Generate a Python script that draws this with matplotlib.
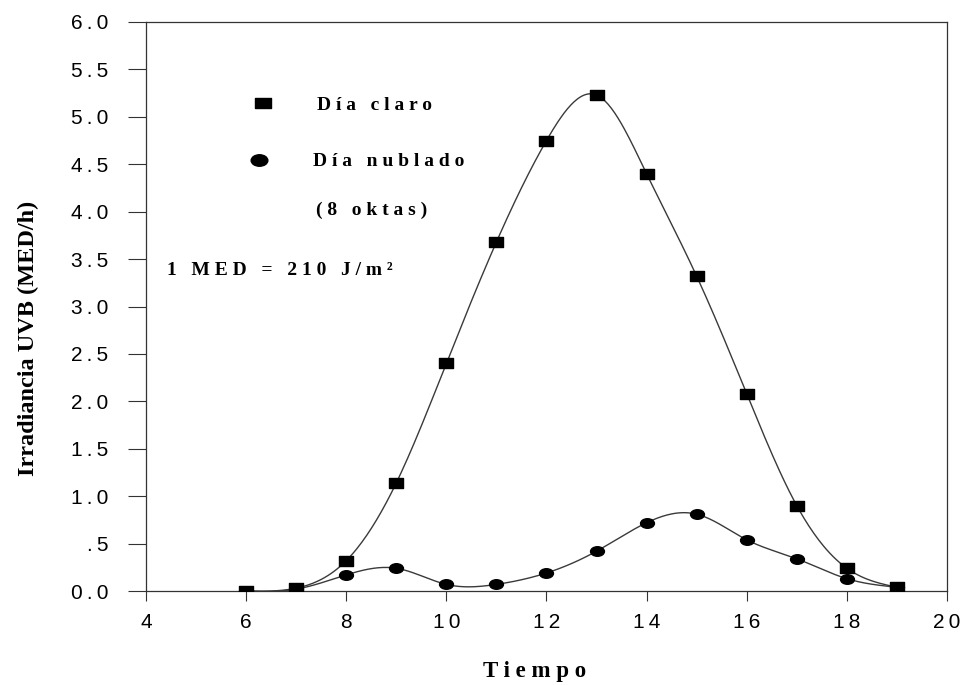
import numpy as np
import matplotlib
matplotlib.use('Agg')
import matplotlib.pyplot as plt
from matplotlib.path import Path
from matplotlib.transforms import Affine2D

# hours of the day
hours = [6, 7, 8, 9, 10, 11, 12, 13, 14, 15, 16, 17, 18, 19]
# UVB irradiance (MED/h)
clear_day = [0.0, 0.03, 0.32, 1.14, 2.40, 3.68, 4.75, 5.23, 4.40, 3.32, 2.08, 0.90, 0.24, 0.04]
cloudy_day = [0.0, 0.02, 0.17, 0.24, 0.07, 0.07, 0.19, 0.42, 0.72, 0.81, 0.54, 0.34, 0.13, 0.04]

xticks = [4, 6, 8, 10, 12, 14, 16, 18, 20]
yticks = [0.0, 0.5, 1.0, 1.5, 2.0, 2.5, 3.0, 3.5, 4.0, 4.5, 5.0, 5.5, 6.0]
ytick_labels = ['0.0', '.5', '1.0', '1.5', '2.0', '2.5', '3.0', '3.5',
                '4.0', '4.5', '5.0', '5.5', '6.0']


def spline(x, y, n=400):
    # natural cubic spline, just for drawing the smooth line
    x = np.asarray(x, float)
    y = np.asarray(y, float)
    k = len(x)
    h = np.diff(x)
    A = np.zeros((k, k))
    b = np.zeros(k)
    A[0, 0] = A[-1, -1] = 1
    for i in range(1, k - 1):
        A[i, i - 1] = h[i - 1]
        A[i, i] = 2 * (h[i - 1] + h[i])
        A[i, i + 1] = h[i]
        b[i] = 3 * ((y[i + 1] - y[i]) / h[i] - (y[i] - y[i - 1]) / h[i - 1])
    c = np.linalg.solve(A, b)
    xs = np.linspace(x[0], x[-1], n)
    idx = np.clip(np.searchsorted(x, xs) - 1, 0, k - 2)
    dx = xs - x[idx]
    bb = (y[idx + 1] - y[idx]) / h[idx] - h[idx] * (2 * c[idx] + c[idx + 1]) / 3
    d = (c[idx + 1] - c[idx]) / (3 * h[idx])
    ys = y[idx] + bb * dx + c[idx] * dx ** 2 + d * dx ** 3
    return xs, ys


def spaced(s):
    return '\u2009'.join(s)


# the scanned markers are a bit wider than tall
stretch = Affine2D().scale(1.45, 1.0)
rect = stretch.transform_path(Path.unit_rectangle().transformed(Affine2D().translate(-0.5, -0.5)))
ellipse = stretch.transform_path(Path.unit_circle())

sans = ['Liberation Sans', 'DejaVu Sans']
serif = ['Liberation Serif', 'DejaVu Serif']

fig = plt.figure(figsize=(9.61, 6.85), dpi=100)
ax = fig.add_axes([0.1519, 0.1372, 0.8335, 0.8307])

xs, ys = spline(hours, clear_day)
ax.plot(xs, ys, color='#3a3a3a', lw=1.0)
xs, ys = spline(hours, cloudy_day)
ax.plot(xs, ys, color='#3a3a3a', lw=1.0)
ax.plot(hours, clear_day, ls='none', marker=rect, color='black', markersize=10, zorder=3)
ax.plot(hours, cloudy_day, ls='none', marker=ellipse, color='black', markersize=10, zorder=3)

ax.set_xlim(4, 20)
ax.set_ylim(0, 6)
ax.set_xticks(xticks)
ax.set_xticklabels([spaced(str(t)) for t in xticks], family=sans, fontsize=15)
ax.set_yticks(yticks)
ax.set_yticklabels([spaced(t) for t in ytick_labels], family=sans, fontsize=15)
ax.tick_params(axis='x', direction='out', length=7, width=0.8, pad=9, color='#333333')
ax.tick_params(axis='y', direction='out', length=13, width=0.8, pad=14, color='#333333')
for sp in ax.spines.values():
    sp.set_linewidth(0.9)
    sp.set_color('#333333')

fig.text(28 / 961, 1 - 338 / 685, 'Irradiancia UVB (MED/h)', family=serif,
         fontweight='bold', fontsize=17.5, rotation=90, ha='center', va='center')
fig.text(535 / 961, 1 - 672 / 685, 'T i e m p o', family=serif, fontweight='bold',
         fontsize=16.5, ha='center', va='center')

# legend drawn by hand
ax.plot([0.146], [0.857], ls='none', marker=rect, color='black', markersize=11,
        transform=ax.transAxes, clip_on=False)
ax.plot([0.141], [0.757], ls='none', marker=ellipse, color='black', markersize=12,
        transform=ax.transAxes, clip_on=False)
tkw = dict(transform=ax.transAxes, family=serif, fontweight='bold', fontsize=14,
           va='center', ha='left')
ax.text(0.2135, 0.853, 'D í a   c l a r o', **tkw)
ax.text(0.2085, 0.754, 'D í a   n u b l a d o', **tkw)
ax.text(0.212, 0.669, '( 8   o k t a s )', **tkw)
ax.text(0.026, 0.564, '1   M E D   =   2 1 0   J / m ²', **tkw)

fig.savefig('out.png', dpi=100)
